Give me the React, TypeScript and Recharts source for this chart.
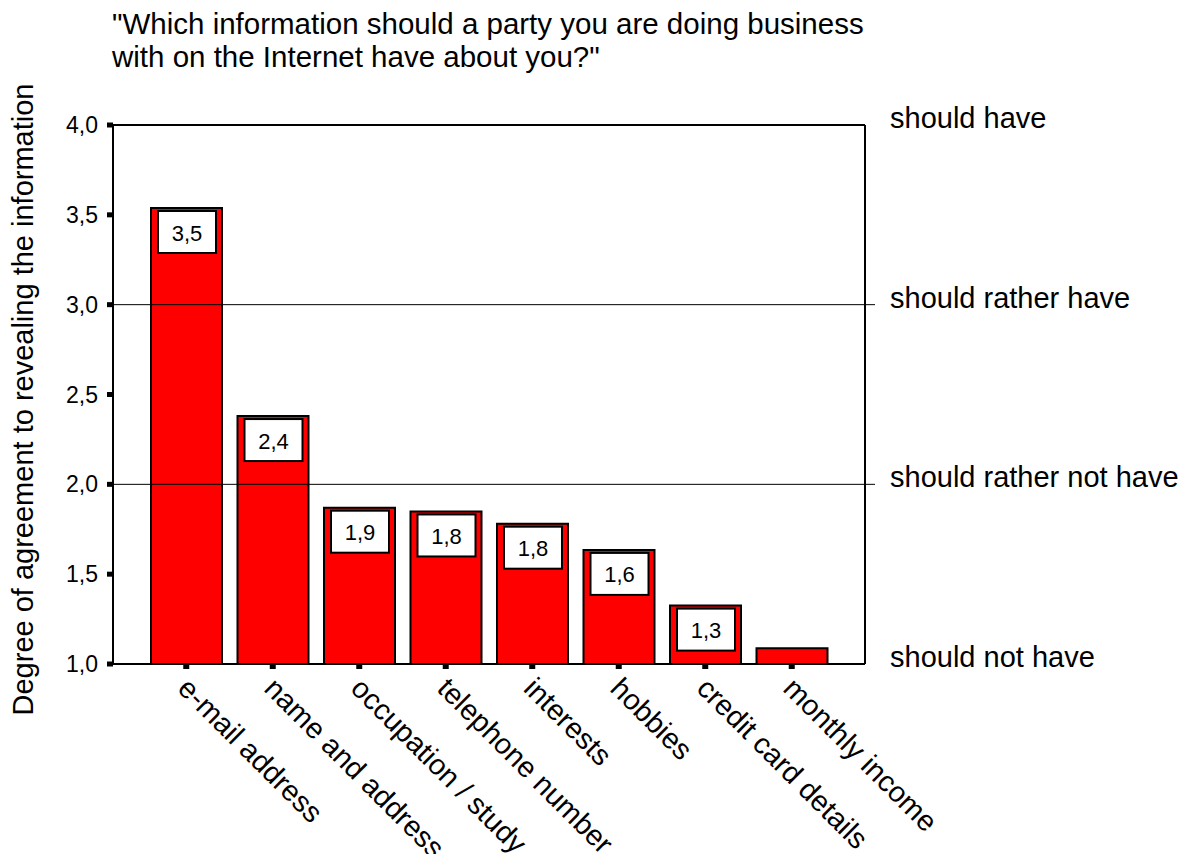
import React from 'react';
import {
  BarChart,
  Bar,
  XAxis,
  YAxis,
  ReferenceLine,
  LabelList,
} from 'recharts';

const categories = [
  'e-mail address',
  'name and address',
  'occupation / study',
  'telephone number',
  'interests',
  'hobbies',
  'credit card details',
  'monthly income',
];
const agreement = [3.538, 2.38, 1.87, 1.849, 1.781, 1.635, 1.325, 1.087];
const yTicks = [1, 1.5, 2, 2.5, 3, 3.5, 4];
const levelValues = [4, 3, 2, 1];
const levelLabels = ['should have', 'should rather have', 'should rather not have', 'should not have'];
const titleLines = [
  '"Which information should a party you are doing business',
  'with on the Internet have about you?"',
];
const yAxisTitle = 'Degree of agreement to revealing the information';

const FONT = '"Liberation Sans", Arial, Helvetica, sans-serif';
const Y_MIN = 1;
const Y_MAX = 4;

const comma = (v: number) => v.toFixed(1).replace('.', ',');

// white value box sitting at the top of each bar
const ValueBox = (props: any) => {
  const { x, y, width, height, value } = props;
  if (height == null || height < 48) return null;
  const bx = Number(x) + 7;
  const by = Number(y) + 3;
  const bw = Number(width) - 13;
  return (
    <g>
      <rect x={bx} y={by} width={bw} height={42} fill="#fff" stroke="#000" strokeWidth={2} />
      <text
        x={bx + bw / 2}
        y={by + 22}
        textAnchor="middle"
        dominantBaseline="central"
        fontFamily={FONT}
        fontSize={22}
        fill="#000"
      >
        {comma(Number(value))}
      </text>
    </g>
  );
};

const CategoryTick = (props: any) => {
  const { x, y, payload } = props;
  const ax = x - 10;
  const ay = y + 19;
  return (
    <text
      x={ax}
      y={ay}
      transform={`rotate(45, ${ax}, ${ay})`}
      textAnchor="start"
      fontFamily={FONT}
      fontSize={29}
      fill="#000"
    >
      {payload.value}
    </text>
  );
};

const levelShape = (label: string, value: number) => (p: any) => {
  const inside = value > Y_MIN && value < Y_MAX;
  return (
    <g>
      {inside && (
        <line x1={p.x1} y1={p.y1} x2={p.x2 + 10} y2={p.y2} stroke="#000" strokeWidth={1} />
      )}
      <text x={p.x2 + 25} y={p.y1 + 3} fontFamily={FONT} fontSize={29} fill="#000">
        {label}
      </text>
    </g>
  );
};

const YTitle = (props: any) => {
  const vb = props.viewBox || {};
  const cx = 33;
  const cy = (vb.y ?? 125) + (vb.height ?? 539) / 2 + 5;
  return (
    <text
      x={cx}
      y={cy}
      transform={`rotate(-90, ${cx}, ${cy})`}
      textAnchor="middle"
      fontFamily={FONT}
      fontSize={29}
      fill="#000"
    >
      {yAxisTitle}
    </text>
  );
};

export default function App() {
  const data = categories.map((name, i) => ({ name, value: agreement[i] }));

  return (
    <div style={{ position: 'absolute', left: 0, top: 0, width: 1191, height: 854, background: '#fff' }}>
      <div
        style={{
          position: 'absolute',
          left: 112,
          top: 7,
          fontFamily: FONT,
          fontSize: 29.5,
          lineHeight: '33px',
          color: '#000',
          whiteSpace: 'nowrap',
        }}
      >
        {titleLines.map((t) => (
          <div key={t}>{t}</div>
        ))}
      </div>
      <BarChart
        width={1191}
        height={854}
        data={data}
        margin={{ top: 124, right: 325, bottom: 10, left: 63 }}
        barCategoryGap={0}
      >
        <XAxis
          dataKey="name"
          interval={0}
          padding={{ left: 30, right: 30 }}
          height={180}
          axisLine={{ stroke: '#000', strokeWidth: 2 }}
          tickLine={{ stroke: '#000', strokeWidth: 6 }}
          tickSize={5}
          tick={<CategoryTick />}
        />
        <XAxis
          xAxisId="top"
          dataKey="name"
          orientation="top"
          height={1}
          tick={false}
          tickLine={false}
          axisLine={{ stroke: '#000', strokeWidth: 2 }}
        />
        <YAxis
          domain={[Y_MIN, Y_MAX]}
          ticks={yTicks}
          allowDataOverflow
          width={50}
          tickFormatter={comma}
          tick={{ fill: '#000', fontSize: 23, fontFamily: FONT }}
          tickSize={6}
          tickMargin={9}
          axisLine={{ stroke: '#000', strokeWidth: 2 }}
          tickLine={{ stroke: '#000', strokeWidth: 5 }}
          label={<YTitle />}
        />
        <YAxis
          yAxisId="right"
          orientation="right"
          domain={[Y_MIN, Y_MAX]}
          width={1}
          tick={false}
          tickLine={false}
          axisLine={{ stroke: '#000', strokeWidth: 2 }}
        />
        {levelValues.map((v, i) => (
          <ReferenceLine key={v} y={v} stroke="none" shape={levelShape(levelLabels[i], v)} />
        ))}
        <Bar
          dataKey="value"
          fill="#ff0000"
          stroke="#000"
          strokeWidth={2}
          barSize={71}
          isAnimationActive={false}
        >
          <LabelList dataKey="value" content={<ValueBox />} />
        </Bar>
      </BarChart>
    </div>
  );
}
